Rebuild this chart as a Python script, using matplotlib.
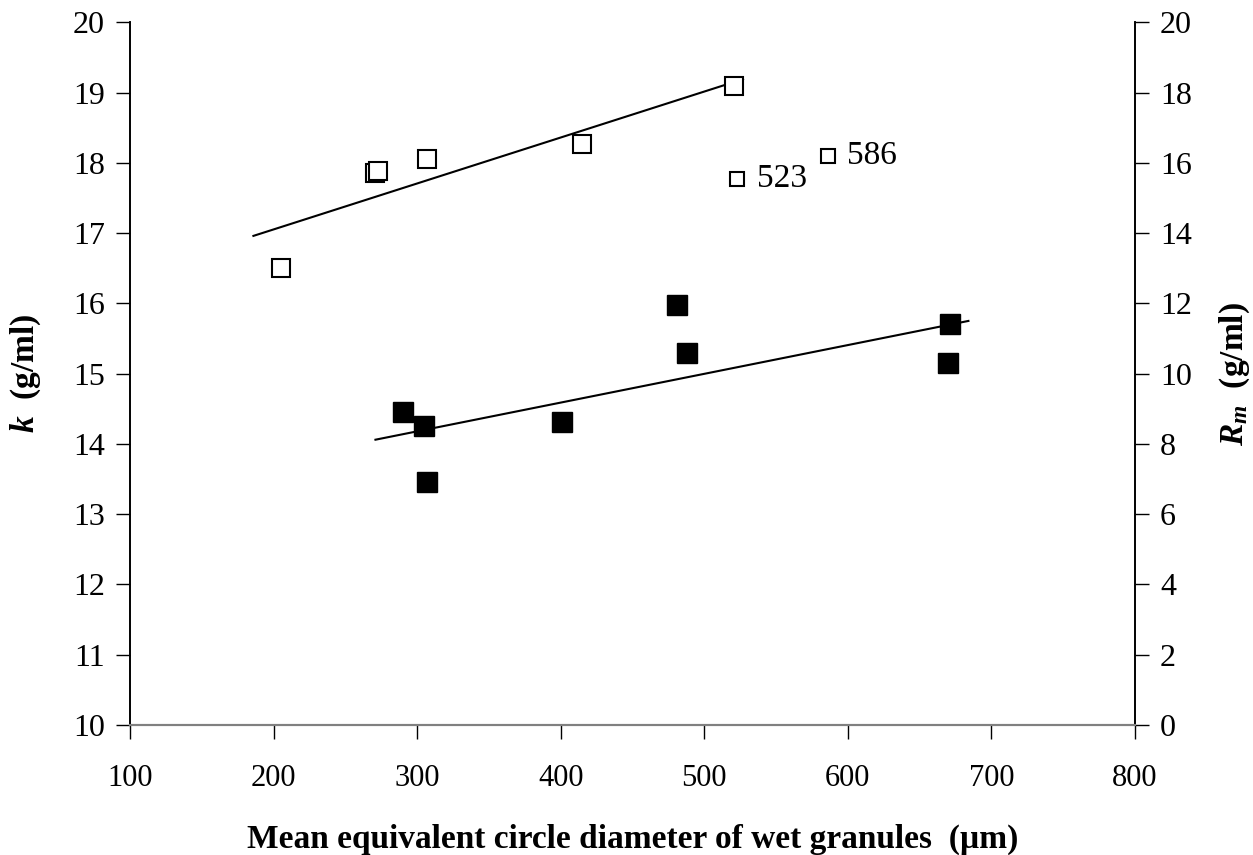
import matplotlib

matplotlib.use("Agg")
import matplotlib.pyplot as plt

# open squares: k (left axis)
k_x = [205, 271, 273, 307, 415, 521]
k_y = [16.50, 17.86, 17.88, 18.05, 18.27, 19.09]
# excluded points with labels
k_out_x = [523, 586]
k_out_y = [17.77, 18.10]
k_out_labels = ["523", "586"]
k_fit_x = [186, 527]
k_fit_y = [16.96, 19.19]

# filled squares: Rm (right axis)
rm_x = [290, 305, 307, 401, 481, 488, 671, 670]
rm_y = [8.90, 8.50, 6.92, 8.62, 11.94, 10.58, 11.42, 10.30]
rm_fit_x = [271, 684]
rm_fit_y = [8.12, 11.50]

plt.rcParams["font.family"] = "Liberation Serif"
plt.rcParams["mathtext.fontset"] = "custom"
plt.rcParams["mathtext.rm"] = "Liberation Serif:bold"
plt.rcParams["mathtext.it"] = "Liberation Serif:bold:italic"
plt.rcParams["mathtext.bf"] = "Liberation Serif:bold"

fig = plt.figure(figsize=(12.53, 8.55), dpi=100)
ax = fig.add_axes([0.1037, 0.152, 0.8021, 0.822])
ax2 = ax.twinx()

ax.plot(k_fit_x, k_fit_y, color="black", lw=1.5)
ax.plot(k_x, k_y, "s", ms=13, mfc="white", mec="black", mew=1.5, ls="none")
ax.plot(k_out_x, k_out_y, "s", ms=10, mfc="white", mec="black", mew=1.5, ls="none")
for x, y, s in zip(k_out_x, k_out_y, k_out_labels):
    ax.annotate(s, (x, y), xytext=(14, 0), textcoords="offset points",
                va="center", ha="left", fontsize=24)

ax2.plot(rm_fit_x, rm_fit_y, color="black", lw=1.5)
ax2.plot(rm_x, rm_y, "s", ms=14, mfc="black", mec="black", ls="none")

ax.set_xlim(100, 800)
ax.set_ylim(10, 20)
ax2.set_ylim(0, 20)
ax.set_xticks(range(100, 801, 100))
ax.set_yticks(range(10, 21, 1))
ax2.set_yticks(range(0, 21, 2))

for a in (ax, ax2):
    a.spines["top"].set_visible(False)
    a.spines["left"].set_linewidth(1.2)
    a.spines["right"].set_linewidth(1.2)
    a.spines["bottom"].set_color("#808080")
    a.spines["bottom"].set_linewidth(1.5)
    a.tick_params(labelsize=23, length=10, width=1.0, direction="out")
ax.tick_params(axis="x", labelsize=22, pad=18)
ax.tick_params(axis="y", pad=8)
ax2.tick_params(axis="y", pad=8)

ax.set_xlabel("Mean equivalent circle diameter of wet granules  (µm)",
              fontsize=24, fontweight="bold", labelpad=22)
ax.set_ylabel("$k$  (g/ml)", fontsize=24, fontweight="bold")
ax2.set_ylabel("$R_m$  (g/ml)", fontsize=24, fontweight="bold")
ax.yaxis.set_label_coords(-0.0866, 0.5)
ax2.yaxis.set_label_coords(1.0826, 0.5)

fig.savefig("out.png", dpi=100)
